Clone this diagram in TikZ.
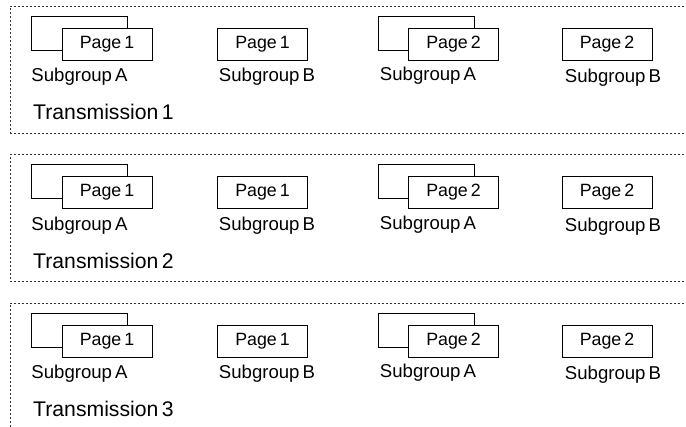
\documentclass[tikz,border=0pt]{standalone}
\usepackage{fontspec}
\setmainfont{Liberation Sans}

\tikzset{
  pagebox/.style={draw, fill=white, line width=0.8pt, minimum width=90pt,
    minimum height=32pt, inner sep=0pt, font=\fontsize{17.8}{18}\selectfont},
  backbox/.style={draw, line width=0.8pt, minimum width=96pt,
    minimum height=34pt, inner sep=0pt},
  grouplabel/.style={inner sep=0pt, font=\fontsize{18.6}{19}\selectfont},
  translabel/.style={anchor=west, inner sep=0pt, font=\fontsize{21.2}{21}\selectfont},
  frame/.style={draw=black!80, line width=0.7pt, dash pattern=on 2pt off 2pt}
}

\begin{document}
\begin{tikzpicture}[x=1pt, y=-1pt]
  \clip (0,0) rectangle (686,427);

  \foreach \n in {1,2,3} {
    \begin{scope}[yshift={-(\n-1)*148.5pt}]
      % Rahmen
      \draw[frame] (700,6) -- (10.5,6) -- (10.5,133) -- (700,133);

      % Seite 1
      \node[backbox] (back1\n) at (79,33) {};
      \node[pagebox] (a1\n) at (107,44) {Page\,1};
      \node[grouplabel] (sa1\n) at (79.5,77) {Subgroup\,A};
      \node[pagebox] (b1\n) at (262.5,44) {Page\,1};
      \node[grouplabel] (sb1\n) at (267,77) {Subgroup\,B};

      % Seite 2
      \node[backbox] (back2\n) at (426,33) {};
      \node[pagebox] (a2\n) at (453.5,44) {Page\,2};
      \node[grouplabel] (sa2\n) at (428,76) {Subgroup\,A};
      \node[pagebox] (b2\n) at (607,44) {Page\,2};
      \node[grouplabel] (sb2\n) at (613,78) {Subgroup\,B};

      % Beschriftung
      \node[translabel] (t\n) at (33,112) {Transmission\,\n};
    \end{scope}
  }
\end{tikzpicture}
\end{document}
